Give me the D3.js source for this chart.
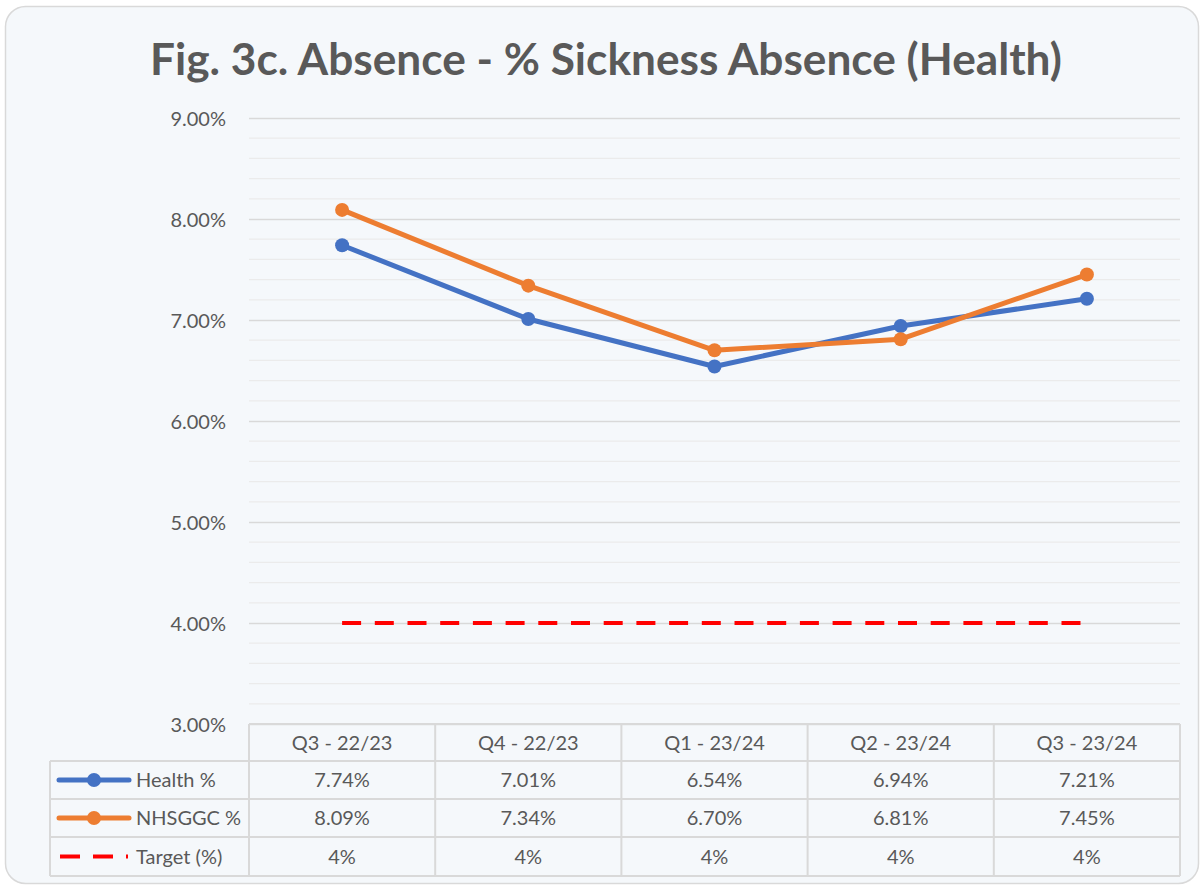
<!DOCTYPE html>
<html>
<head>
<meta charset="utf-8">
<script src="https://cdn.jsdelivr.net/npm/d3@7"></script>
<style>
  html, body { margin: 0; padding: 0; background: #ffffff; }
  svg text { font-family: Lato, "Open Sans", sans-serif; fill: #595959; }
</style>
</head>
<body>
<div id="chart"></div>
<script>
// data
const categories = ["Q3 - 22/23", "Q4 - 22/23", "Q1 - 23/24", "Q2 - 23/24", "Q3 - 23/24"];
const healthPct = [7.74, 7.01, 6.54, 6.94, 7.21];
const nhsggcPct = [8.09, 7.34, 6.70, 6.81, 7.45];
const targetPct = [4, 4, 4, 4, 4];
const yTicks = [3, 4, 5, 6, 7, 8, 9];
const seriesNames = ["Health %", "NHSGGC %", "Target (%)"];

const w = 1203;
const h = 886;
const plotLeft = 249, plotRight = 1180, plotTop = 118, plotBottom = 724;
const tableLeft = 50;
const rowEdges = [724, 761, 799, 837, 876];
const fs = '20px';

const blue = "#4472c4";
const orange = "#ed7d31";
const red = "#ff0000";
const textColor = "#595959";

const svg = d3.select('#chart')
              .append('svg')
              .attr('width', w)
              .attr('height', h);

// card background
svg.append('rect')
   .attr('x', 5.5).attr('y', 6.5)
   .attr('width', 1193).attr('height', 877)
   .attr('rx', 20).attr('ry', 20)
   .attr('fill', '#f5f8fb')
   .attr('stroke', '#d9d9d9')
   .attr('stroke-width', 1.5);

// title
const title = svg.append('text')
   .attr('x', 606).attr('y', 75)
   .attr('text-anchor', 'middle')
   .style('font-weight', 'bold')
   .style('font-size', '40px')
   .text('Fig. 3c. Absence - % Sickness Absence (Health)');
const tw = title.node().getComputedTextLength();
title.style('font-size', (40 * 912 / tw) + 'px');

// scales
const x = d3.scaleBand().domain(categories).range([plotLeft, plotRight]);
const y = d3.scaleLinear().domain([3, 9]).range([plotBottom, plotTop]);
const cx = d => x(d) + x.bandwidth() / 2;

// minor gridlines
const minor = d3.range(3, 9.001, 0.2).filter(v => Math.abs(v - Math.round(v)) > 0.01);
svg.append('g')
   .selectAll('line')
   .data(minor)
   .enter()
   .append('line')
   .attr('x1', plotLeft).attr('x2', plotRight)
   .attr('y1', d => y(d)).attr('y2', d => y(d))
   .attr('stroke', '#ebebeb')
   .attr('stroke-width', 1.3);

// major gridlines + labels
const yAxis = d3.axisLeft(y)
   .tickValues(yTicks)
   .tickSize(-(plotRight - plotLeft))
   .tickPadding(23)
   .tickFormat(d => d.toFixed(2) + '%');
const ya = svg.append('g')
   .attr('transform', `translate(${plotLeft},0)`)
   .call(yAxis);
ya.select('.domain').remove();
ya.selectAll('line').attr('stroke', '#d9d9d9').attr('stroke-width', 1.5);
ya.selectAll('text')
  .style('font-size', fs)
  .style('fill', textColor)
  .style('font-family', 'Lato, "Open Sans", sans-serif')
  .attr('dy', '0.35em');

// target line
const line = d3.line().x((d, i) => cx(categories[i])).y(d => y(d));

svg.append('path')
   .datum(targetPct)
   .attr('d', line)
   .attr('fill', 'none')
   .attr('stroke', red)
   .attr('stroke-width', 4)
   .attr('stroke-dasharray', '19,13.7');

// series lines
[[healthPct, blue], [nhsggcPct, orange]].forEach(s => {
  svg.append('path')
     .datum(s[0])
     .attr('d', line)
     .attr('fill', 'none')
     .attr('stroke', s[1])
     .attr('stroke-width', 5)
     .attr('stroke-linejoin', 'round');
  svg.append('g')
     .selectAll('circle')
     .data(s[0])
     .enter()
     .append('circle')
     .attr('cx', (d, i) => cx(categories[i]))
     .attr('cy', d => y(d))
     .attr('r', 7)
     .attr('fill', s[1]);
});

// data table
const tg = svg.append('g');
const gridColor = '#d9d9d9';
// horizontal lines
rowEdges.forEach((ry, i) => {
  tg.append('line')
    .attr('x1', i == 0 ? plotLeft : tableLeft).attr('x2', plotRight)
    .attr('y1', ry).attr('y2', ry)
    .attr('stroke', gridColor).attr('stroke-width', 2);
});
// vertical lines
tg.append('line')
  .attr('x1', tableLeft).attr('x2', tableLeft)
  .attr('y1', rowEdges[1]).attr('y2', rowEdges[4])
  .attr('stroke', gridColor).attr('stroke-width', 2);
categories.forEach(c => {
  tg.append('line')
    .attr('x1', x(c)).attr('x2', x(c))
    .attr('y1', rowEdges[0]).attr('y2', rowEdges[4])
    .attr('stroke', gridColor).attr('stroke-width', 2);
});
tg.append('line')
  .attr('x1', plotRight).attr('x2', plotRight)
  .attr('y1', rowEdges[0]).attr('y2', rowEdges[4])
  .attr('stroke', gridColor).attr('stroke-width', 2);

const rowMid = i => (rowEdges[i] + rowEdges[i + 1]) / 2;

// header
tg.selectAll('.hdr')
  .data(categories)
  .enter()
  .append('text')
  .attr('x', d => cx(d))
  .attr('y', rowMid(0))
  .attr('dy', '0.35em')
  .attr('text-anchor', 'middle')
  .style('font-size', fs)
  .text(d => d);

const rows = [
  healthPct.map(v => v.toFixed(2) + '%'),
  nhsggcPct.map(v => v.toFixed(2) + '%'),
  targetPct.map(v => v + '%')
];
rows.forEach((r, ri) => {
  tg.selectAll('.r' + ri)
    .data(r)
    .enter()
    .append('text')
    .attr('x', (d, i) => cx(categories[i]))
    .attr('y', rowMid(ri + 1))
    .attr('dy', '0.35em')
    .attr('text-anchor', 'middle')
    .style('font-size', fs)
    .text(d => d);
  tg.append('text')
    .attr('x', 136)
    .attr('y', rowMid(ri + 1))
    .attr('dy', '0.35em')
    .style('font-size', fs)
    .text(seriesNames[ri]);
});

// legend keys
[[blue, 0], [orange, 1]].forEach(k => {
  const ky = rowMid(k[1] + 1);
  tg.append('line')
    .attr('x1', 59).attr('x2', 129)
    .attr('y1', ky).attr('y2', ky)
    .attr('stroke', k[0]).attr('stroke-width', 5)
    .attr('stroke-linecap', 'round');
  tg.append('circle')
    .attr('cx', 94).attr('cy', ky).attr('r', 7)
    .attr('fill', k[0]);
});
tg.append('line')
  .attr('x1', 60).attr('x2', 128)
  .attr('y1', rowMid(3)).attr('y2', rowMid(3))
  .attr('stroke', red).attr('stroke-width', 4)
  .attr('stroke-dasharray', '20,13');
</script>
</body>
</html>
